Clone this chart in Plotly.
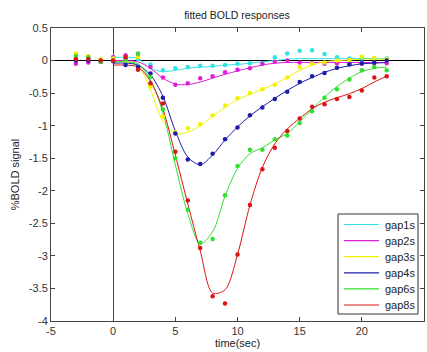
import plotly.graph_objects as go

# time points of the measured data (sec)
t_data = list(range(-3, 23))
# time points of the fitted curves (sec)
t_fit = list(range(0, 23))

series_names = ["gap1s", "gap2s", "gap3s", "gap4s", "gap6s", "gap8s"]
series_colors = ["#30E4E4", "#E020D8", "#F2F200", "#1C1CA8", "#30E030", "#DA1414"]

# measured %BOLD values, t = -3 .. 22
gap1s_data = [0.03, 0.02, 0.0, 0.05, 0.03, 0.02, -0.06, -0.15, -0.12, -0.10, -0.08, -0.08, -0.07, -0.05,
              -0.04, -0.04, 0.05, 0.11, 0.15, 0.16, 0.10, 0.05, 0.03, 0.03, 0.03, 0.03]
gap2s_data = [-0.05, -0.03, -0.01, 0.05, 0.08, 0.07, -0.10, -0.26, -0.37, -0.35, -0.27, -0.24, -0.18, -0.14,
              -0.12, -0.05, -0.02, 0.0, -0.03, -0.04, -0.05, -0.04, -0.05, -0.05, -0.04, -0.04]
gap3s_data = [0.11, 0.07, 0.02, 0.03, 0.03, 0.05, -0.40, -0.86, -1.10, -1.04, -0.98, -0.84, -0.69, -0.58,
              -0.50, -0.44, -0.37, -0.26, -0.10, -0.05, -0.03, 0.0, 0.01, 0.06, 0.04, 0.02]
gap4s_data = [0.0, 0.0, -0.02, -0.01, -0.07, -0.10, -0.20, -0.57, -1.12, -1.52, -1.59, -1.43, -1.21, -1.03,
              -0.84, -0.72, -0.59, -0.48, -0.33, -0.24, -0.19, -0.11, -0.06, -0.04, -0.03, 0.0]
gap6s_data = [0.07, 0.05, -0.02, 0.0, 0.02, 0.11, -0.25, -0.75, -1.50, -2.29, -2.80, -2.74, -2.07, -1.62,
              -1.37, -1.37, -1.21, -1.15, -0.96, -0.78, -0.57, -0.44, -0.29, -0.15, -0.10, -0.15]
gap8s_data = [0.02, 0.02, 0.0, 0.0, 0.05, -0.14, -0.35, -0.66, -1.40, -2.15, -2.88, -3.62, -3.73, -2.98,
              -2.22, -1.67, -1.34, -1.08, -0.89, -0.71, -0.67, -0.59, -0.56, -0.46, -0.26, -0.24]

# fitted responses, t = 0 .. 22
gap1s_fit = [0.05, 0.05, 0.03, -0.12, -0.17, -0.15, -0.12, -0.10, -0.09, -0.07, -0.06, -0.04,
             -0.02, 0.0, 0.02, 0.03, 0.03, 0.03, 0.03, 0.03, 0.03, 0.03, 0.03]
gap2s_fit = [0.0, 0.0, -0.02, -0.12, -0.27, -0.36, -0.37, -0.33, -0.27, -0.21, -0.16, -0.11,
             -0.07, -0.04, -0.03, -0.03, -0.03, -0.03, -0.03, -0.03, -0.03, -0.03, -0.03]
gap3s_fit = [-0.02, -0.02, -0.08, -0.45, -0.93, -1.12, -1.10, -1.00, -0.86, -0.72, -0.60, -0.52,
             -0.44, -0.36, -0.26, -0.15, -0.07, -0.02, 0.0, 0.01, 0.02, 0.02, 0.02]
gap4s_fit = [-0.04, -0.04, -0.07, -0.22, -0.55, -1.08, -1.48, -1.60, -1.45, -1.22, -1.02, -0.85,
             -0.71, -0.58, -0.46, -0.35, -0.26, -0.18, -0.12, -0.08, -0.05, -0.04, -0.03]
gap6s_fit = [-0.02, -0.02, -0.05, -0.30, -0.80, -1.60, -2.35, -2.81, -2.63, -2.08, -1.66, -1.43,
             -1.34, -1.22, -1.12, -0.94, -0.75, -0.56, -0.40, -0.27, -0.17, -0.12, -0.10]
gap8s_fit = [-0.07, -0.07, -0.10, -0.32, -0.75, -1.45, -2.20, -2.92, -3.57, -3.52, -2.98, -2.22,
             -1.64, -1.28, -1.05, -0.89, -0.74, -0.64, -0.57, -0.51, -0.43, -0.33, -0.24]

data_series = [gap1s_data, gap2s_data, gap3s_data, gap4s_data, gap6s_data, gap8s_data]
fit_series = [gap1s_fit, gap2s_fit, gap3s_fit, gap4s_fit, gap6s_fit, gap8s_fit]

x_ticks = [-5, 0, 5, 10, 15, 20, 25]
y_ticks = [0.5, 0, -0.5, -1, -1.5, -2, -2.5, -3, -3.5, -4]
x_tick_labels = ["-5", "0", "5", "10", "15", "20", "25"]
y_tick_labels = ["0.5", "0", "-0.5", "-1", "-1.5", "-2", "-2.5", "-3", "-3.5", "-4"]

W, H = 427, 352
ML, MR, MT, MB = 51, 3, 28, 31
PW, PH = W - ML - MR, H - MT - MB

fig = go.Figure()

for name, color, fit in zip(series_names, series_colors, fit_series):
    fig.add_trace(go.Scatter(
        x=t_fit, y=fit, mode="lines", name=name,
        line=dict(color=color, width=1, shape="spline", smoothing=0.9),
        showlegend=False,
    ))

for name, color, vals in zip(series_names, series_colors, data_series):
    fig.add_trace(go.Scatter(
        x=t_data, y=vals, mode="markers", name=name + " data",
        marker=dict(color=color, size=4.5, symbol="circle"),
        showlegend=False,
    ))

font_family = "Liberation Sans, Arial, sans-serif"
axis_common = dict(
    showgrid=False, automargin=False,
    showline=True, linecolor="#444444", linewidth=1, mirror="ticks",
    ticks="inside", ticklen=4, tickcolor="#444444",
    tickfont=dict(family=font_family, size=11, color="#333333"),
    zeroline=True, zerolinewidth=1,
)

# MATLAB-style legend box drawn in paper coordinates (pixel layout -> paper)
def px_x(px):
    return (px - ML) / PW

def px_y(py):
    return (H - MB - py) / PH

shapes = []
annotations = []
box_l, box_r, box_t, box_b = 338, 418, 214, 314
shapes.append(dict(type="rect", xref="paper", yref="paper",
                   x0=px_x(box_l), x1=px_x(box_r), y0=px_y(box_b), y1=px_y(box_t),
                   line=dict(color="#333333", width=1), fillcolor="white", layer="above"))
row0, row_step = 224.5, 16.1
for i, (name, color) in enumerate(zip(series_names, series_colors)):
    yc = row0 + i * row_step
    shapes.append(dict(type="line", xref="paper", yref="paper",
                       x0=px_x(344), x1=px_x(379), y0=px_y(yc), y1=px_y(yc),
                       line=dict(color=color, width=1.2), layer="above"))
    annotations.append(dict(text=name, xref="paper", yref="paper",
                            x=px_x(383), y=px_y(yc), xanchor="left", yanchor="middle",
                            showarrow=False,
                            font=dict(family=font_family, size=11, color="#222222")))

fig.update_layout(
    width=W, height=H,
    margin=dict(l=ML, r=MR, t=MT, b=MB),
    paper_bgcolor="white", plot_bgcolor="white",
    font=dict(family=font_family, size=11, color="#222222"),
    title=dict(text="fitted BOLD responses", x=px_x(237), xanchor="center",
               xref="paper", y=1 - 15 / H, yanchor="middle",
               font=dict(family=font_family, size=10.5, color="#222222")),
    xaxis=dict(range=[-5, 25], tickvals=x_ticks, ticktext=x_tick_labels,
               zerolinecolor="#444444",
               title=dict(text="time(sec)", standoff=2,
                          font=dict(family=font_family, size=11, color="#222222")),
               **axis_common),
    yaxis=dict(range=[-4, 0.5], tickvals=y_ticks, ticktext=y_tick_labels,
               zerolinecolor="#000000",
               title=dict(text="%BOLD signal", standoff=6,
                          font=dict(family=font_family, size=11, color="#222222")),
               **axis_common),
    shapes=shapes,
    annotations=annotations,
    showlegend=False,
)

fig.write_html("out.html", config={"displayModeBar": False},
               post_script="document.body.style.margin='0';")
